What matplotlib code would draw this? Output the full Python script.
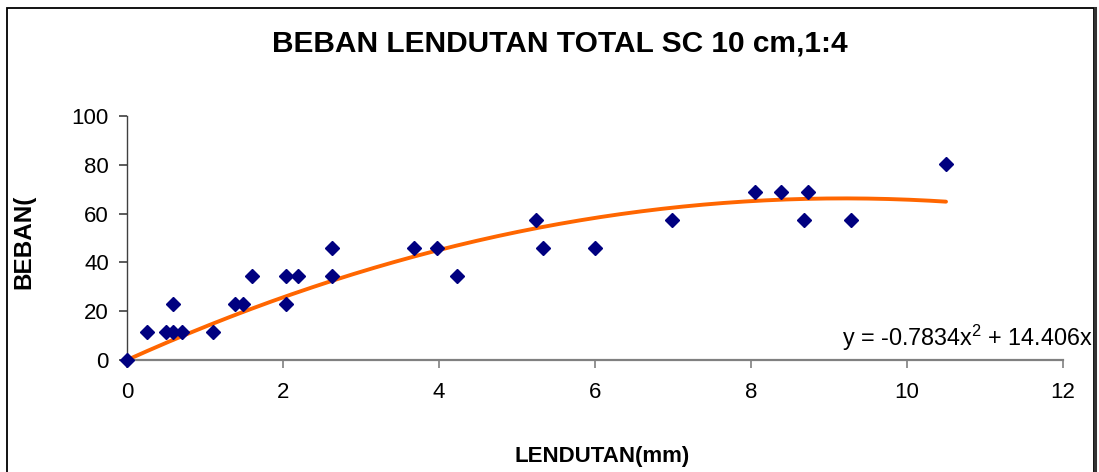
import numpy as np
import matplotlib
matplotlib.use("Agg")
import matplotlib.pyplot as plt
from matplotlib.patches import Rectangle
from matplotlib.lines import Line2D

# ---- data ----
lendutan = [0.0, 0.25, 0.50, 0.59, 0.59, 0.70, 1.10, 1.38, 1.49, 1.60,
            2.04, 2.04, 2.19, 2.63, 2.63, 3.68, 3.98, 4.23, 5.24, 5.33,
            6.00, 6.99, 8.05, 8.39, 8.73, 8.68, 9.28, 10.50]
beban = [0.0, 11.5, 11.5, 11.5, 23.0, 11.5, 11.5, 23.0, 23.0, 34.5,
         23.0, 34.5, 34.5, 46.0, 34.5, 46.0, 46.0, 34.5, 57.5, 46.0,
         46.0, 57.5, 69.0, 69.0, 69.0, 57.5, 57.5, 80.5]
trend_a2 = -0.7834
trend_a1 = 14.406
x_ticks = [0, 2, 4, 6, 8, 10, 12]
y_ticks = [0, 20, 40, 60, 80, 100]
title = "BEBAN LENDUTAN TOTAL SC 10 cm,1:4"
x_label = "LENDUTAN(mm)"
y_label = "BEBAN("
equation = "y = -0.7834x$^{2}$ + 14.406x"

plt.rcParams['font.family'] = ['Liberation Sans', 'DejaVu Sans']
plt.rcParams['mathtext.fontset'] = 'custom'
plt.rcParams['mathtext.rm'] = 'Liberation Sans'
plt.rcParams['mathtext.it'] = 'Liberation Sans'

W, H = 1099, 472
fig = plt.figure(figsize=(W / 100, H / 100), dpi=100)
fig.patch.set_facecolor('white')

ax = fig.add_axes([127 / W, 1 - 360 / H, (1063 - 127) / W, (360 - 116) / H])
ax.set_xlim(0, 12)
ax.set_ylim(0, 100)

xs = np.array(lendutan)
ys = np.array(beban)
xt = np.linspace(0, xs.max(), 200)
yt = trend_a2 * xt ** 2 + trend_a1 * xt
ax.plot(xt, yt, color='#FF6600', lw=2.8, solid_capstyle='round', zorder=2, clip_on=False)
ax.plot(xs, ys, linestyle='none', marker='D', ms=6.8, color='#000080',
        markeredgecolor='#000080', zorder=3, clip_on=False)

ax.set_xticks(x_ticks)
ax.set_yticks(y_ticks)
ax.set_xticklabels([str(v) for v in x_ticks])
ax.set_yticklabels([str(v) for v in y_ticks])
ax.tick_params(axis='both', labelsize=16, direction='out', length=6, width=1.2, colors='#000000')
ax.tick_params(axis='x', pad=10, color='#808080')
ax.tick_params(axis='y', pad=7, color='#404040')

for s in ['top', 'right']:
    ax.spines[s].set_visible(False)
ax.spines['bottom'].set_color('#808080')
ax.spines['bottom'].set_linewidth(1.6)
ax.spines['left'].set_color('#404040')
ax.spines['left'].set_linewidth(1.0)

fig.text(560 / W, 1 - 51.7 / H, title, ha='center', va='baseline',
         fontsize=21.5, fontweight='bold')
fig.text(602 / W, 1 - 461.7 / H, x_label, ha='center', va='baseline',
         fontsize=16, fontweight='bold')
fig.text(24 / W, 1 - 242 / H, y_label, ha='center', va='center', rotation=90,
         fontsize=17.5, fontweight='bold')
fig.text(1093 / W, 1 - 346 / H, equation, ha='right', va='baseline', fontsize=16.8)

# chart-area border
fig.patches.append(Rectangle((7 / W, -0.05), (1094 - 7) / W, 1.05 - 8 / H,
                             transform=fig.transFigure, fill=False,
                             edgecolor='black', lw=1.3))
fig.lines.append(Line2D([1094.5 / W, 1094.5 / W], [-0.05, 1 - 8 / H],
                        transform=fig.transFigure, color='#333333', lw=2.2))

fig.savefig('out.png', dpi=100)
